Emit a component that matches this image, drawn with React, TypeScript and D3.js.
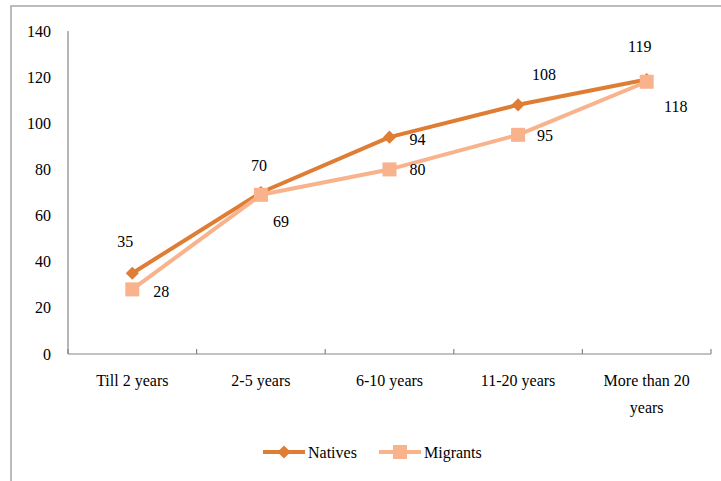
import * as d3 from "d3";

const categories = ["Till 2 years", "2-5 years", "6-10 years", "11-20 years", "More than 20 years"];
const natives = [35, 70, 94, 108, 119];
const migrants = [28, 69, 80, 95, 118];
const yTicks = [0, 20, 40, 60, 80, 100, 120, 140];

// label offsets (dx, dy) relative to the point, per series
const nativeLabelOffsets: [number, number][] = [[-7, -26], [-2, -22], [28, 8], [26, -25], [-7, -27]];
const migrantLabelOffsets: [number, number][] = [[29, 8], [20, 32], [28, 6], [27, 6], [29, 30]];

const NATIVE_COLOR = "#DF7D35";
const MIGRANT_COLOR = "#F8B28C";
const FONT = "Liberation Serif, DejaVu Serif";

const wrapLabel = (s: string) => (s === "More than 20 years" ? ["More than 20", "years"] : [s]);

export default function App() {
  const width = 721;
  const height = 481;
  const left = 68;
  const right = 711;
  const top = 31;
  const bottom = 354;

  const x = d3.scaleBand<string>().domain(categories).range([left, right]);
  const y = d3.scaleLinear().domain([0, 140]).range([bottom, top]);
  const cx = (c: string) => (x(c) ?? 0) + x.bandwidth() / 2;

  const line = d3
    .line<number>()
    .x((_, i) => cx(categories[i]))
    .y((d) => y(d));

  const tickXs = [...categories.map((c) => x(c) ?? 0), right];
  const diamond = d3.symbol().type(d3.symbolDiamond2).size(110)();

  return (
    <svg width={width} height={height} style={{ position: "absolute", left: 0, top: 0 }}>
      <rect x={0} y={0} width={width} height={height} fill="#fff" />
      <rect x={11} y={6} width={width + 10} height={height + 10} fill="none" stroke="#A6A6A6" strokeWidth={1.5} />

      <g style={{ fontFamily: FONT, fontSize: "16px" }}>
        {/* y axis */}
        <line x1={left} x2={left} y1={top} y2={bottom} stroke="#868686" strokeWidth={1.2} />
        {yTicks.map((t) => (
          <text key={t} x={51} y={y(t)} dy="0.35em" textAnchor="end" fill="#000">
            {t}
          </text>
        ))}

        {/* x axis */}
        <line x1={left} x2={right} y1={bottom} y2={bottom} stroke="#868686" strokeWidth={1.2} />
        {tickXs.map((tx, i) => (
          <line key={i} x1={tx} x2={tx} y1={bottom} y2={bottom - 5} stroke="#868686" strokeWidth={1.2} />
        ))}
        {categories.map((c) => (
          <text key={c} x={cx(c)} y={386} textAnchor="middle" fill="#000">
            {wrapLabel(c).map((part, j) => (
              <tspan key={j} x={cx(c)} dy={j === 0 ? 0 : 27}>
                {part}
              </tspan>
            ))}
          </text>
        ))}

        {/* natives */}
        <path d={line(natives) ?? ""} fill="none" stroke={NATIVE_COLOR} strokeWidth={4} strokeLinejoin="round" />
        {natives.map((v, i) => (
          <path key={i} d={diamond ?? ""} transform={`translate(${cx(categories[i])},${y(v)})`} fill={NATIVE_COLOR} />
        ))}

        {/* migrants */}
        <path d={line(migrants) ?? ""} fill="none" stroke={MIGRANT_COLOR} strokeWidth={4} strokeLinejoin="round" />
        {migrants.map((v, i) => (
          <rect key={i} x={cx(categories[i]) - 7} y={y(v) - 7} width={14} height={14} fill={MIGRANT_COLOR} />
        ))}

        {/* data labels */}
        {natives.map((v, i) => (
          <text key={"n" + i} x={cx(categories[i]) + nativeLabelOffsets[i][0]} y={y(v) + nativeLabelOffsets[i][1]} textAnchor="middle">
            {v}
          </text>
        ))}
        {migrants.map((v, i) => (
          <text key={"m" + i} x={cx(categories[i]) + migrantLabelOffsets[i][0]} y={y(v) + migrantLabelOffsets[i][1]} textAnchor="middle">
            {v}
          </text>
        ))}

        {/* legend */}
        <g transform="translate(263,452)">
          <line x1={0} x2={42} y1={0} y2={0} stroke={NATIVE_COLOR} strokeWidth={4} />
          <path d={diamond ?? ""} transform="translate(21,0)" fill={NATIVE_COLOR} />
          <text x={45} y={0} dy="0.35em">Natives</text>
        </g>
        <g transform="translate(379,452)">
          <line x1={0} x2={42} y1={0} y2={0} stroke={MIGRANT_COLOR} strokeWidth={4} />
          <rect x={14} y={-7} width={14} height={14} fill={MIGRANT_COLOR} />
          <text x={45} y={0} dy="0.35em">Migrants</text>
        </g>
      </g>
    </svg>
  );
}
